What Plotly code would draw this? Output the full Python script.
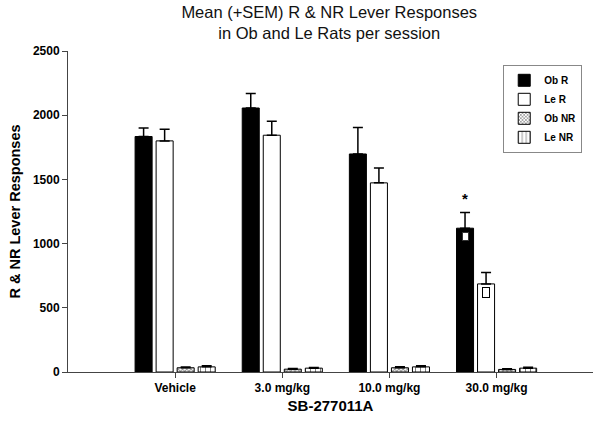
import plotly.graph_objects as go

categories = ["Vehicle", "3.0 mg/kg", "10.0 mg/kg", "30.0 mg/kg"]
ob_r = [1834, 2056, 1698, 1120]
ob_r_sem = [67, 113, 206, 123]
le_r = [1800, 1844, 1473, 686]
le_r_sem = [91, 109, 116, 88]
ob_nr = [33, 22, 33, 20]
ob_nr_sem = [6, 5, 7, 5]
le_nr = [40, 30, 40, 30]
le_nr_sem = [8, 6, 9, 7]

y_ticks = [0, 500, 1000, 1500, 2000, 2500]

# significance marks on the 30.0 mg/kg group
star_category = "30.0 mg/kg"
star_value = 1243
square_ob_value = 1054
square_le_value = 621

FONT = "Liberation Sans, Arial, sans-serif"

def err(vals):
    return dict(type="data", symmetric=False, array=vals, arrayminus=[0] * len(vals),
                color="black", thickness=1.5, width=5)

fig = go.Figure()
fig.add_trace(go.Bar(name="Ob R", x=categories, y=ob_r, error_y=err(ob_r_sem),
                     marker=dict(color="black", line=dict(color="black", width=1))))
fig.add_trace(go.Bar(name="Le R", x=categories, y=le_r, error_y=err(le_r_sem),
                     marker=dict(color="white", line=dict(color="black", width=1))))
fig.add_trace(go.Bar(name="Ob NR", x=categories, y=ob_nr, error_y=err(ob_nr_sem),
                     marker=dict(color="white", line=dict(color="black", width=1),
                                 pattern=dict(shape="x", fgcolor="#222", bgcolor="white",
                                              size=3, solidity=0.5))))
fig.add_trace(go.Bar(name="Le NR", x=categories, y=le_nr, error_y=err(le_nr_sem),
                     marker=dict(color="white", line=dict(color="black", width=1),
                                 pattern=dict(shape="|", fgcolor="black", bgcolor="white",
                                              size=5, solidity=0.2))))

fig.update_layout(
    width=612, height=424,
    margin=dict(l=68, r=19, t=51, b=50),
    paper_bgcolor="white", plot_bgcolor="white",
    barmode="group", bargap=0.215, bargroupgap=0.19,
    font=dict(family=FONT, color="black"),
    title=dict(text="Mean (+SEM) R &amp; NR Lever Responses<br>in Ob and Le Rats per session",
               x=0.538, xanchor="center", y=0.958, yanchor="top",
               font=dict(family=FONT, size=16.5, color="#111")),
    showlegend=True,
    legend=dict(x=0.829, y=0.957, xanchor="left", yanchor="top",
                bordercolor="#888", borderwidth=1, bgcolor="white",
                font=dict(family=FONT, size=10, color="black", weight="bold"),
                tracegroupgap=0, itemwidth=30),
    xaxis=dict(type="category", range=[-1.0, 3.9], showline=True, linecolor="#444",
               linewidth=1, ticks="outside", ticklen=5, tickcolor="#444",
               tickfont=dict(family=FONT, size=12, weight="bold"),
               title=dict(text="SB-277011A", font=dict(family=FONT, size=15, weight="bold"),
                          standoff=6),
               showgrid=False, zeroline=False),
    yaxis=dict(range=[0, 2500], tickvals=y_ticks, showline=True, linecolor="#444",
               linewidth=1, ticks="outside", ticklen=5, tickcolor="#444",
               tickfont=dict(family=FONT, size=12, weight="bold"),
               title=dict(text="R &amp; NR Lever Responses",
                          font=dict(family=FONT, size=14.5, weight="bold"), standoff=8),
               showgrid=False, zeroline=False),
)

fig.add_annotation(x=star_category, y=star_value, text="*", showarrow=False,
                   xshift=-31.5, yshift=3, yanchor="bottom",
                   font=dict(family=FONT, size=15, weight="bold", color="black"))
fig.add_annotation(x=star_category, y=square_ob_value, text=" ", showarrow=False,
                   xshift=-31.5, width=5, height=7, bgcolor="white", bordercolor="#333",
                   borderwidth=1, borderpad=0, font=dict(size=4))
fig.add_annotation(x=star_category, y=square_le_value, text=" ", showarrow=False,
                   xshift=-10.5, width=6, height=9, bgcolor="white", bordercolor="black",
                   borderwidth=1, borderpad=0, font=dict(size=4))

fig.write_html("out.html", config={"displayModeBar": False},
               post_script="document.body.style.margin='0';")
